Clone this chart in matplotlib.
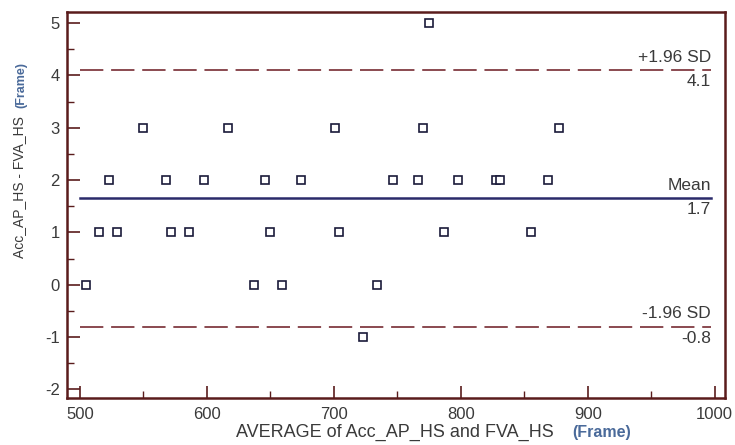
import matplotlib
matplotlib.use('Agg')
import matplotlib.pyplot as plt
from matplotlib.ticker import MultipleLocator

# Bland-Altman 데이터
avg_vals = [775,
            550, 617, 701, 770, 877,
            523, 568, 598, 646, 674, 747, 766, 798, 828, 831, 869,
            515, 529, 572, 586, 650, 704, 787, 855,
            505, 637, 659, 734,
            723]
diff_vals = [5,
             3, 3, 3, 3, 3,
             2, 2, 2, 2, 2, 2, 2, 2, 2, 2, 2,
             1, 1, 1, 1, 1, 1, 1, 1,
             0, 0, 0, 0,
             -1]
mean_diff = 1.66
upper_loa = 4.1
lower_loa = -0.8
line_span = [500, 997]

plt.rcParams['font.family'] = ['Liberation Sans', 'DejaVu Sans']
plt.rcParams['axes.unicode_minus'] = False

frame_col = '#5a1c1c'
text_col = '#3a3a3a'
blue_col = '#4a6a9a'

fig = plt.figure(figsize=(7.35, 4.45), dpi=100)
ax = fig.add_axes([0.091, 0.105, 0.895, 0.868])

ax.plot(line_span, [upper_loa, upper_loa], color='#8a4a50', lw=1.4, dashes=(12, 4))
ax.plot(line_span, [lower_loa, lower_loa], color='#8a4a50', lw=1.4, dashes=(12, 4))
ax.plot(line_span, [mean_diff, mean_diff], color='#2a2a6a', lw=1.8)

ax.plot(avg_vals, diff_vals, linestyle='none', marker='s', markersize=5.5,
        markerfacecolor='white', markeredgecolor='#1a1a3a', markeredgewidth=1.2)

# 선 라벨
xr = line_span[1]
lab_fs = 12.5
ax.text(xr, upper_loa + 0.1, '+1.96 SD', ha='right', va='bottom', fontsize=lab_fs, color=text_col)
ax.text(xr, upper_loa - 0.08, '%.1f' % upper_loa, ha='right', va='top', fontsize=lab_fs, color=text_col)
ax.text(xr, mean_diff + 0.1, 'Mean', ha='right', va='bottom', fontsize=lab_fs, color=text_col)
ax.text(xr, mean_diff - 0.08, '%.1f' % mean_diff, ha='right', va='top', fontsize=lab_fs, color=text_col)
ax.text(xr, lower_loa + 0.1, '-1.96 SD', ha='right', va='bottom', fontsize=lab_fs, color=text_col)
ax.text(xr, lower_loa - 0.08, '%.1f' % lower_loa, ha='right', va='top', fontsize=lab_fs, color=text_col)

ax.set_xlim(489.8, 1007.9)
ax.set_ylim(-2.17, 5.21)
ax.xaxis.set_major_locator(MultipleLocator(100))
ax.xaxis.set_minor_locator(MultipleLocator(50))
ax.yaxis.set_major_locator(MultipleLocator(1))
ax.yaxis.set_minor_locator(MultipleLocator(0.5))
ax.tick_params(which='both', direction='in', color=frame_col, labelcolor=text_col,
               labelsize=12, top=False, right=False)
ax.tick_params(which='major', length=9, width=1.2)
ax.tick_params(axis='y', which='major', pad=5)
ax.tick_params(axis='x', which='major', pad=6)
ax.tick_params(which='minor', length=5, width=1.0)

for s in ax.spines.values():
    s.set_color(frame_col)
    s.set_linewidth(1.8)

# 축 제목
fig.text(236 / 735, 1 - 432 / 445, 'AVERAGE of Acc_AP_HS and FVA_HS', ha='left', va='center',
         fontsize=13, color=text_col)
fig.text(572 / 735, 1 - 432 / 445, '(Frame)', ha='left', va='center',
         fontsize=11.5, color=blue_col, fontweight='bold')
fig.text(19 / 735, 1 - 258 / 445, 'Acc_AP_HS - FVA_HS', ha='center', va='bottom',
         rotation=90, fontsize=10, color=text_col)
fig.text(21 / 735, 1 - 108 / 445, '(Frame)', ha='center', va='bottom',
         rotation=90, fontsize=9, color=blue_col, fontweight='bold')

fig.savefig('out.png', dpi=100)
